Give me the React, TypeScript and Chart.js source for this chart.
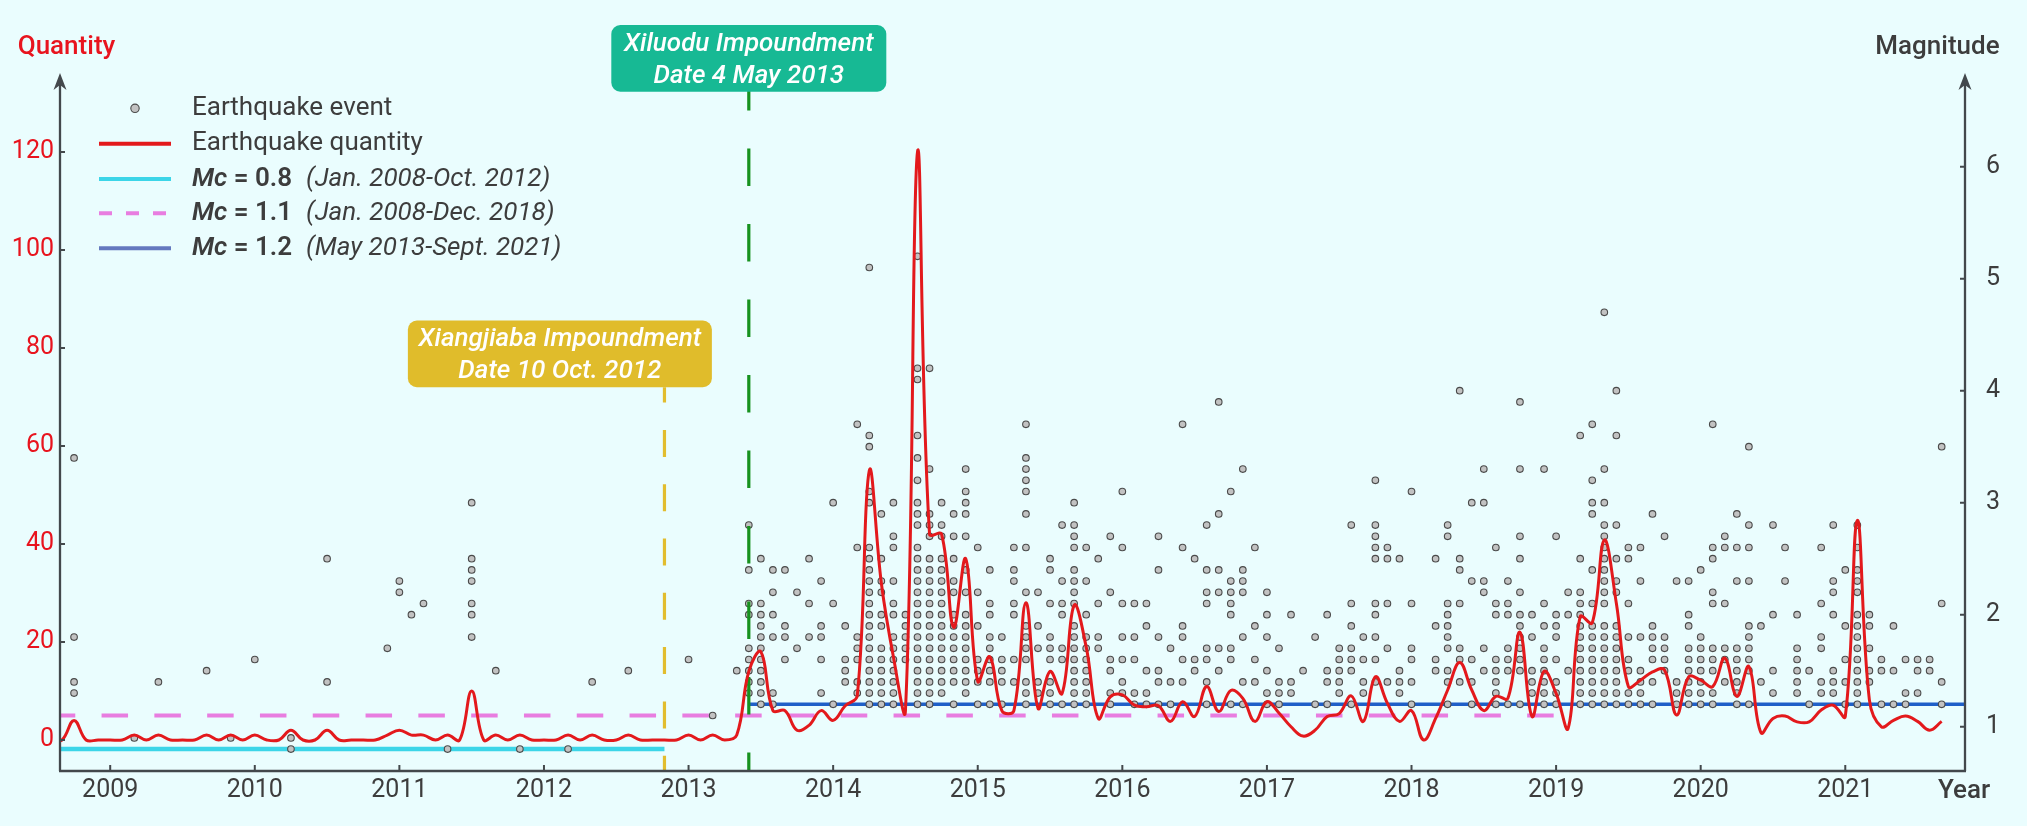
import React, { useEffect, useRef } from "react";
import { Chart, registerables } from "chart.js";

Chart.register(...registerables);

// ---------------- data ----------------
const yearTicks = [2009, 2010, 2011, 2012, 2013, 2014, 2015, 2016, 2017, 2018, 2019, 2020, 2021];
const quantityTicks = [0, 20, 40, 60, 80, 100, 120];
const magnitudeTicks = [1, 2, 3, 4, 5, 6];

// monthly earthquake quantity, first value = Jul 2008
const quantityStart = "2008-07";
const quantityValues = [
  0, 0, 4, 0, 0, 0,
  0, 1, 0, 1, 0, 0, 0, 1, 0, 1, 0, 1,
  0, 0, 2, 0, 0, 2, 0, 0, 0, 0, 1, 2,
  1, 1, 0, 1, 0, 10, 0, 1, 0, 1, 0, 0,
  0, 1, 0, 1, 0, 0, 1, 0, 0, 0, 0, 1,
  0, 1, 0, 1, 14, 18, 6, 6, 2, 3, 6, 4,
  7, 9, 55, 32, 17, 6, 120, 42, 42, 23, 37, 12,
  17, 6, 6, 28, 6.5, 14, 9.5, 27.5, 19, 4.4, 8.8, 9.2,
  7.1, 6.8, 7, 3.8, 7.8, 4.8, 10.9, 5.8, 10.1, 8.5, 3.8, 7.8,
  5.5, 2.7, 0.8, 2, 4.8, 5.4, 9, 3.8, 12.9, 7.5, 3.8, 6,
  0, 4.4, 10.2, 15.8, 10.2, 6, 8.9, 8.5, 22, 4.8, 14, 9.5,
  2.4, 25.2, 23.9, 40.8, 27.9, 10.9, 12.2, 13.9, 14.3, 5.1, 12.9, 12.2,
  10.9, 16.7, 8.9, 15, 1.5, 4.4, 4.9, 3.7, 3.7, 6.1, 7.1, 4.8,
  44.8, 8.2, 2.7, 4, 4.9, 3.8, 2, 3.8,
];

// earthquake events: month and magnitudes recorded in that month
const eventMonths = [
  "2008-09", "2009-02", "2009-04", "2009-08", "2009-10", "2009-12", "2010-03", "2010-06", "2010-11", "2010-12",
  "2011-01", "2011-02", "2011-04", "2011-06", "2011-08", "2011-10", "2012-02", "2012-04", "2012-07", "2012-12",
  "2013-02", "2013-04", "2013-05", "2013-06", "2013-07", "2013-08", "2013-09", "2013-10", "2013-11", "2013-12",
  "2014-01", "2014-02", "2014-03", "2014-04", "2014-05", "2014-06", "2014-07", "2014-08", "2014-09", "2014-10", "2014-11", "2014-12",
  "2015-01", "2015-02", "2015-03", "2015-04", "2015-05", "2015-06", "2015-07", "2015-08", "2015-09", "2015-10", "2015-11", "2015-12",
  "2016-01", "2016-02", "2016-03", "2016-04", "2016-05", "2016-06", "2016-07", "2016-08", "2016-09", "2016-10", "2016-11", "2016-12",
  "2017-01", "2017-02", "2017-03", "2017-04", "2017-05", "2017-06", "2017-07", "2017-08", "2017-09", "2017-10", "2017-11", "2017-12",
  "2018-02", "2018-03", "2018-04", "2018-05", "2018-06", "2018-07", "2018-08", "2018-09", "2018-10", "2018-11", "2018-12",
  "2019-01", "2019-02", "2019-03", "2019-04", "2019-05", "2019-06", "2019-07", "2019-08", "2019-09", "2019-10", "2019-11", "2019-12",
  "2020-01", "2020-02", "2020-03", "2020-04", "2020-05", "2020-06", "2020-07", "2020-08", "2020-09", "2020-10", "2020-11", "2020-12",
  "2021-01", "2021-02", "2021-03", "2021-04", "2021-05", "2021-06", "2021-07", "2021-08",
];
const eventMagnitudes = [
  [3.4, 1.8, 1.4, 1.3], [0.9], [1.4], [1.5], [0.9], [1.6], [0.9, 0.8], [2.5, 1.4], [1.7], [2.3, 2.2],
  [2.0], [2.1], [0.8], [3.0, 2.5, 2.4, 2.3, 2.1, 2.0, 1.8], [1.5], [0.8], [0.8], [1.4], [1.5], [1.6],
  [1.1], [1.5],
  [2.8, 2.4, 2.1, 2.0, 1.7, 1.6, 1.5, 1.4, 1.3],
  [2.5, 2.1, 2.0, 1.9, 1.8, 1.7, 1.6, 1.5, 1.4, 1.3, 1.2],
  [2.4, 2.2, 2.0, 1.8, 1.3, 1.2],
  [2.4, 1.9, 1.8, 1.6],
  [2.2, 1.7],
  [2.5, 2.1, 1.8],
  [2.3, 1.9, 1.8, 1.6, 1.3],
  [3.0, 2.1, 1.2],
  // 2014
  [1.9, 1.6, 1.5, 1.4],
  [3.7, 2.6, 1.8, 1.7, 1.6, 1.4, 1.3],
  [5.1, 3.6, 3.5, 3.1, 3.0, 2.6, 2.5, 2.4, 2.3, 2.2, 2.1, 2.0, 1.9, 1.8, 1.7, 1.6, 1.5, 1.4, 1.3, 1.2],
  [2.9, 2.5, 2.3, 2.2, 2.0, 1.9, 1.7, 1.6, 1.5, 1.4, 1.3, 1.2],
  [3.0, 2.7, 2.6, 2.3, 2.1, 2.0, 1.8, 1.7, 1.6, 1.5, 1.4, 1.3, 1.2],
  [2.0, 1.9, 1.8, 1.7, 1.6],
  [5.2, 4.2, 4.1, 3.6, 3.4, 3.2, 3.0, 2.9, 2.8, 2.6, 2.5, 2.4, 2.3, 2.2, 2.1, 2.0, 1.9, 1.8, 1.7, 1.6, 1.5, 1.4, 1.3, 1.2],
  [4.2, 3.3, 2.9, 2.8, 2.7, 2.5, 2.4, 2.3, 2.2, 2.1, 2.0, 1.9, 1.8, 1.7, 1.6, 1.5, 1.4, 1.3, 1.2],
  [3.0, 2.8, 2.7, 2.5, 2.4, 2.3, 2.2, 2.1, 2.0, 1.9, 1.8, 1.7, 1.6, 1.5, 1.4, 1.3],
  [2.9, 2.7, 2.5, 2.3, 2.2, 2.0, 1.9, 1.8, 1.7, 1.6, 1.5, 1.4, 1.2],
  [3.3, 3.1, 3.0, 2.9, 2.7, 2.4, 2.2, 2.0, 1.9, 1.8, 1.7, 1.6, 1.5, 1.4, 1.3],
  [2.6, 2.2, 1.9, 1.6, 1.5, 1.4, 1.2],
  // 2015
  [2.4, 2.1, 2.0, 1.8, 1.7, 1.6, 1.5, 1.4, 1.2],
  [1.8, 1.6, 1.5, 1.4, 1.2],
  [2.6, 2.4, 2.3, 2.1, 2.0, 1.6, 1.4],
  [3.7, 3.4, 3.3, 3.2, 3.1, 2.9, 2.6, 2.2, 1.9, 1.8, 1.7, 1.6, 1.4, 1.3, 1.2],
  [2.2, 1.9, 1.7, 1.4, 1.3],
  [2.5, 2.4, 2.1, 1.8, 1.7, 1.6, 1.4, 1.3, 1.2],
  [2.8, 2.3, 2.1, 2.0, 1.7, 1.6, 1.2],
  [3.0, 2.8, 2.7, 2.6, 2.4, 2.3, 2.2, 2.1, 1.9, 1.8, 1.7, 1.6, 1.5, 1.4, 1.3, 1.2],
  [2.6, 2.3, 2.0, 1.8, 1.7, 1.6, 1.5, 1.4, 1.3, 1.2],
  [2.5, 2.1, 1.8, 1.7],
  [2.7, 2.2, 1.6, 1.5, 1.3, 1.2],
  [3.1, 2.6, 2.1, 1.8, 1.6, 1.4, 1.3],
  // 2016
  [2.1, 1.8, 1.6, 1.3, 1.2],
  [2.1, 1.9, 1.5, 1.3, 1.2],
  [2.7, 2.4, 1.8, 1.5, 1.4, 1.2],
  [1.7, 1.4, 1.2],
  [3.7, 2.6, 1.9, 1.8, 1.6, 1.4],
  [2.5, 1.6, 1.5],
  [2.8, 2.4, 2.2, 2.1, 1.7, 1.6, 1.4, 1.2],
  [3.9, 2.9, 2.4, 2.2, 1.7, 1.5],
  [3.1, 2.3, 2.2, 2.1, 2.0, 1.7, 1.6, 1.2],
  [3.3, 2.4, 2.3, 2.2, 1.8, 1.4, 1.2],
  [2.6, 1.9, 1.6, 1.4],
  [2.2, 2.0, 1.8, 1.5, 1.3, 1.2],
  // 2017
  [1.7, 1.4, 1.3, 1.2],
  [2.0, 1.4, 1.3],
  [1.5],
  [1.8, 1.2],
  [2.0, 1.5, 1.4, 1.2],
  [1.7, 1.6, 1.5, 1.4, 1.3],
  [2.8, 2.1, 1.9, 1.7, 1.6, 1.5, 1.2],
  [1.8, 1.6, 1.4, 1.3],
  [3.2, 2.8, 2.7, 2.6, 2.5, 2.1, 2.0, 1.8, 1.6, 1.4],
  [2.6, 2.5, 2.1, 1.7, 1.4],
  [2.5, 1.5, 1.4, 1.3],
  [3.1, 2.1, 1.7, 1.6, 1.4, 1.2],
  // 2018 (Feb-Dec)
  [2.5, 1.9, 1.6, 1.5],
  [2.8, 2.7, 2.1, 2.0, 1.9, 1.8, 1.7, 1.5, 1.4, 1.2],
  [4.0, 2.5, 2.4, 2.1, 1.7, 1.6, 1.4],
  [3.0, 2.3, 1.6, 1.4, 1.2],
  [3.3, 3.0, 2.3, 2.2, 1.7, 1.5],
  [2.6, 2.1, 2.0, 1.6, 1.5, 1.4, 1.3, 1.2],
  [2.3, 2.1, 2.0, 1.7, 1.6, 1.5, 1.2],
  [3.9, 3.3, 2.7, 2.5, 2.2, 2.0, 1.9, 1.8, 1.7, 1.6, 1.5, 1.2],
  [2.0, 1.8, 1.5, 1.4, 1.3],
  [3.3, 2.1, 1.9, 1.7, 1.6, 1.5, 1.4, 1.3, 1.2],
  [2.7, 2.0, 1.9, 1.8, 1.6, 1.4, 1.3, 1.2],
  // 2019
  [2.2, 2.0, 1.5],
  [3.6, 2.5, 2.2, 2.1, 2.0, 1.9, 1.8, 1.7, 1.6, 1.5, 1.4, 1.3, 1.2],
  [3.7, 3.2, 3.0, 2.9, 2.4, 2.1, 1.9, 1.8, 1.7, 1.6, 1.5, 1.4, 1.3, 1.2],
  [4.7, 3.3, 3.0, 2.8, 2.7, 2.6, 2.5, 2.4, 2.3, 2.2, 2.1, 1.9, 1.8, 1.7, 1.6, 1.5, 1.4, 1.3, 1.2],
  [4.0, 3.6, 2.8, 2.5, 2.3, 2.2, 1.9, 1.8, 1.7, 1.6, 1.5, 1.4, 1.3, 1.2],
  [2.6, 2.5, 2.1, 1.8, 1.6, 1.5, 1.3, 1.2],
  [2.6, 2.3, 1.8, 1.5, 1.4, 1.3, 1.2],
  [2.9, 1.9, 1.8, 1.7, 1.6, 1.4, 1.2],
  [2.7, 1.8, 1.7, 1.6, 1.5],
  [2.3, 1.4, 1.3, 1.2],
  [2.3, 2.0, 1.9, 1.7, 1.6, 1.5, 1.4, 1.3, 1.2],
  [2.4, 1.8, 1.7, 1.6, 1.5, 1.4, 1.3, 1.2],
  // 2020
  [3.7, 2.6, 2.5, 2.2, 2.1, 1.7, 1.6, 1.5, 1.3, 1.2],
  [2.7, 2.6, 2.1, 1.7, 1.6, 1.4],
  [2.9, 2.6, 2.3, 1.7, 1.6, 1.5, 1.4, 1.3, 1.2],
  [3.5, 2.8, 2.6, 2.3, 1.9, 1.8, 1.7, 1.6, 1.5, 1.2],
  [1.9, 1.4],
  [2.8, 2.0, 1.5, 1.3],
  [2.6, 2.3],
  [2.0, 1.7, 1.6, 1.5, 1.4, 1.3],
  [1.5, 1.2],
  [2.6, 2.1, 1.8, 1.7, 1.4, 1.3],
  [2.8, 2.3, 2.2, 2.0, 1.5, 1.4, 1.3],
  [2.4, 1.9, 1.6, 1.4, 1.2],
  // 2021
  [2.8, 2.6, 2.4, 2.3, 2.2, 2.0, 1.9, 1.8, 1.7, 1.6, 1.5, 1.4, 1.3, 1.2],
  [2.0, 1.9, 1.7, 1.5, 1.4],
  [1.6, 1.5, 1.2],
  [1.9, 1.5, 1.2],
  [1.6, 1.3, 1.2],
  [1.6, 1.5, 1.3],
  [1.6, 1.5],
  [3.5, 2.1, 1.4, 1.2],
];

// magnitude of completeness thresholds
const mcValues = [0.8, 1.1, 1.2];
const mcFrom = ["2008-01", "2008-01", "2013-05"];
const mcTo = ["2012-10", "2018-12", "2021-10"];
const mcLabels = ["0.8", "1.1", "1.2"];
const mcPeriods = ["(Jan. 2008-Oct. 2012)", "(Jan. 2008-Dec. 2018)", "(May 2013-Sept. 2021)"];

// reservoir impoundments
const impoundmentDates = ["2012-10", "2013-05"];
const impoundmentTitles = ["Xiangjiaba Impoundment", "Xiluodu Impoundment"];
const impoundmentSubtitles = ["Date 10 Oct. 2012", "Date 4 May 2013"];

// ---------------- layout / style ----------------
const W = 2027;
const H = 826;
const BG = "#EAFDFE";
const AXIS = "#43484c";
const TEXT = "#3d3d3d";
const RED = "#E3191C";
const QTY_RED = "#E8141E";
const FONT = "Roboto";

const X_MIN = 2008.6528;
const X_MAX = 2021.828;
const Q_MIN = -6.327;
const Q_MAX = 136.12;
const M_MIN = 0.6045;
const M_MAX = 6.8366;

// annotation box layout in (year, quantity) units
const boxLayout = [
  { cx: 2012.11, top: 85.6, bottom: 72, width: 304, color: "#E0BC2B", lineFrom: 72, dash: [27, 27.3], dashOffset: 11.6, lineColor: "#E2BD2E" },
  { cx: null as number | null, top: 145.9, bottom: 132.3, width: 275, color: "#17B994", lineFrom: Q_MAX, dash: [37.5, 38], dashOffset: 0, lineColor: "#17921F" },
];

const mcStyles = [
  { color: "#3CD5E8", legendColor: "#3CD5E8", width: 4.5, dash: [] as number[], dashOffset: 0, legendDash: [] as number[] },
  { color: "#E87DE0", legendColor: "#E87DE0", width: 4, dash: [26.5, 26.3], dashOffset: 34.5, legendDash: [13, 14] },
  { color: "#1F5FC8", legendColor: "#6479BF", width: 3.5, dash: [] as number[], dashOffset: 0, legendDash: [] as number[] },
];

function monthToX(s: string): number {
  const [y, m] = s.split("-").map(Number);
  return y + m / 12;
}

function roundRect(ctx: CanvasRenderingContext2D, x: number, y: number, w: number, h: number, r: number) {
  ctx.beginPath();
  ctx.moveTo(x + r, y);
  ctx.lineTo(x + w - r, y);
  ctx.arcTo(x + w, y, x + w, y + r, r);
  ctx.lineTo(x + w, y + h - r);
  ctx.arcTo(x + w, y + h, x + w - r, y + h, r);
  ctx.lineTo(x + r, y + h);
  ctx.arcTo(x, y + h, x, y + h - r, r);
  ctx.lineTo(x, y + r);
  ctx.arcTo(x, y, x + r, y, r);
  ctx.closePath();
}

function drawArrow(ctx: CanvasRenderingContext2D, x: number, tipY: number) {
  ctx.beginPath();
  ctx.moveTo(x, tipY);
  ctx.lineTo(x - 6.5, tipY + 17);
  ctx.lineTo(x, tipY + 12);
  ctx.lineTo(x + 6.5, tipY + 17);
  ctx.closePath();
  ctx.fill();
}

const bgPlugin = {
  id: "bg",
  beforeDraw(chart: any) {
    const ctx = chart.ctx as CanvasRenderingContext2D;
    ctx.save();
    ctx.fillStyle = BG;
    ctx.fillRect(0, 0, chart.width, chart.height);
    ctx.restore();
  },
};

const decorPlugin = {
  id: "decor",
  afterDraw(chart: any) {
    const ctx = chart.ctx as CanvasRenderingContext2D;
    const a = chart.chartArea;
    const sx = chart.scales.x;
    const sq = chart.scales.yQ;
    const sm = chart.scales.yM;
    ctx.save();

    // axes
    ctx.strokeStyle = AXIS;
    ctx.fillStyle = AXIS;
    ctx.lineWidth = 2.3;
    ctx.beginPath();
    ctx.moveTo(a.left - 1, a.bottom);
    ctx.lineTo(a.right + 1, a.bottom);
    ctx.moveTo(a.left, a.bottom);
    ctx.lineTo(a.left, a.top + 12);
    ctx.moveTo(a.right, a.bottom);
    ctx.lineTo(a.right, a.top + 12);
    ctx.stroke();
    drawArrow(ctx, a.left, a.top);
    drawArrow(ctx, a.right, a.top);

    // inward ticks
    ctx.lineWidth = 2;
    ctx.beginPath();
    for (const yv of yearTicks) {
      const px = sx.getPixelForValue(yv);
      ctx.moveTo(px, a.bottom);
      ctx.lineTo(px, a.bottom - 6);
    }
    for (const q of quantityTicks) {
      const py = sq.getPixelForValue(q);
      ctx.moveTo(a.left, py);
      ctx.lineTo(a.left + 5, py);
    }
    for (const m of magnitudeTicks) {
      const py = sm.getPixelForValue(m);
      ctx.moveTo(a.right, py);
      ctx.lineTo(a.right - 5, py);
    }
    ctx.stroke();

    // axis titles
    ctx.textBaseline = "alphabetic";
    ctx.textAlign = "center";
    ctx.font = `500 26px ${FONT}`;
    ctx.fillStyle = QTY_RED;
    ctx.fillText("Quantity", 66.5, 54);
    ctx.fillStyle = TEXT;
    ctx.fillText("Magnitude", 1937.5, 54);
    ctx.fillText("Year", a.right - 1, 798);

    // annotation boxes
    boxLayout.forEach((b, i) => {
      const dateX = monthToX(impoundmentDates[i]);
      const cx = sx.getPixelForValue(b.cx ?? dateX);
      const top = sq.getPixelForValue(b.top);
      const bottom = sq.getPixelForValue(b.bottom);
      ctx.fillStyle = b.color;
      roundRect(ctx, cx - b.width / 2, top, b.width, bottom - top, 9);
      ctx.fill();
      ctx.fillStyle = "#ffffff";
      ctx.font = `italic 500 26px ${FONT}`;
      ctx.textAlign = "center";
      ctx.fillText(impoundmentTitles[i], cx, top + 25.5);
      ctx.fillText(impoundmentSubtitles[i], cx, top + 57.5);
    });

    // legend
    const lx0 = 99;
    const lx1 = 171;
    const tx = 192;
    const px = 306;
    const rows = [108.3, 143.7, 179, 213.3, 248.3];
    ctx.textAlign = "left";
    ctx.textBaseline = "middle";
    // event marker
    ctx.beginPath();
    ctx.arc((lx0 + lx1) / 2, rows[0], 4.2, 0, Math.PI * 2);
    ctx.fillStyle = "#C2C2C2";
    ctx.fill();
    ctx.lineWidth = 1.1;
    ctx.strokeStyle = "#4a4a4a";
    ctx.stroke();
    ctx.fillStyle = TEXT;
    ctx.font = `26px ${FONT}`;
    ctx.fillText("Earthquake event", tx, rows[0]);
    // quantity line
    ctx.strokeStyle = RED;
    ctx.lineWidth = 4;
    ctx.beginPath();
    ctx.moveTo(lx0, rows[1]);
    ctx.lineTo(lx1, rows[1]);
    ctx.stroke();
    ctx.fillText("Earthquake quantity", tx, rows[1]);
    // Mc rows
    mcLabels.forEach((lab, i) => {
      const y = rows[2 + i];
      const st = mcStyles[i];
      ctx.strokeStyle = st.legendColor;
      ctx.lineWidth = 4;
      ctx.setLineDash(st.legendDash);
      ctx.beginPath();
      ctx.moveTo(lx0, y);
      ctx.lineTo(lx1, y);
      ctx.stroke();
      ctx.setLineDash([]);
      ctx.fillStyle = TEXT;
      ctx.font = `italic 600 26px ${FONT}`;
      ctx.fillText("Mc", tx, y);
      const w = ctx.measureText("Mc").width;
      ctx.font = `600 26px ${FONT}`;
      ctx.fillText(" = " + lab, tx + w, y);
      ctx.font = `italic 26px ${FONT}`;
      ctx.fillText(mcPeriods[i], px, y);
    });

    ctx.restore();
  },
};

function buildConfig(): any {
  const qStart = monthToX(quantityStart);
  const quantityPoints = quantityValues.map((v, i) => ({ x: qStart + i / 12, y: v }));
  const eventPoints: { x: number; y: number }[] = [];
  eventMonths.forEach((mo, i) => {
    const x = monthToX(mo);
    for (const m of eventMagnitudes[i]) eventPoints.push({ x, y: m });
  });

  const mcDatasets = mcValues.map((v, i) => ({
    type: "line",
    label: "Mc " + mcLabels[i],
    data: [
      { x: monthToX(mcFrom[i]), y: v },
      { x: monthToX(mcTo[i]), y: v },
    ],
    yAxisID: "yM",
    borderColor: mcStyles[i].color,
    borderWidth: mcStyles[i].width,
    borderDash: mcStyles[i].dash,
    borderDashOffset: mcStyles[i].dashOffset,
    borderCapStyle: "butt",
    pointRadius: 0,
    tension: 0,
    order: 6,
  }));

  const impoundmentDatasets = impoundmentDates.map((d, i) => ({
    type: "line",
    label: impoundmentTitles[i],
    data: [
      { x: monthToX(d), y: boxLayout[i].lineFrom },
      { x: monthToX(d), y: Q_MIN },
    ],
    yAxisID: "yQ",
    borderColor: boxLayout[i].lineColor,
    borderWidth: 3.2,
    borderDash: boxLayout[i].dash,
    borderDashOffset: boxLayout[i].dashOffset,
    borderCapStyle: "butt",
    pointRadius: 0,
    tension: 0,
    order: 3,
  }));

  const tickFont = { family: FONT, size: 25 };

  return {
    type: "scatter",
    data: {
      datasets: [
        ...mcDatasets,
        {
          type: "scatter",
          label: "Earthquake event",
          data: eventPoints,
          yAxisID: "yM",
          pointRadius: 3.3,
          pointBackgroundColor: "#C2C2C2",
          pointBorderColor: "#4a4a4a",
          pointBorderWidth: 1.1,
          backgroundColor: "#C2C2C2",
          borderColor: "#4a4a4a",
          order: 5,
        },
        ...impoundmentDatasets,
        {
          type: "line",
          label: "Earthquake quantity",
          data: quantityPoints,
          yAxisID: "yQ",
          borderColor: RED,
          borderWidth: 3,
          pointRadius: 0,
          tension: 0.4,
          order: 1,
        },
      ],
    },
    options: {
      responsive: false,
      animation: false,
      events: [],
      layout: { padding: { top: 73, left: 0, right: 0, bottom: 0 } },
      plugins: { legend: { display: false }, tooltip: { enabled: false } },
      scales: {
        x: {
          type: "linear",
          min: X_MIN,
          max: X_MAX,
          grid: { display: false, drawTicks: false },
          border: { display: false },
          afterBuildTicks: (s: any) => {
            s.ticks = yearTicks.map((v) => ({ value: v }));
          },
          afterFit: (s: any) => {
            s.height = 55;
          },
          ticks: {
            callback: (v: any) => String(v),
            font: tickFont,
            color: TEXT,
            padding: 5,
            maxRotation: 0,
            autoSkip: false,
          },
        },
        yQ: {
          type: "linear",
          position: "left",
          min: Q_MIN,
          max: Q_MAX,
          grid: { display: false, drawTicks: false },
          border: { display: false },
          afterBuildTicks: (s: any) => {
            s.ticks = quantityTicks.map((v) => ({ value: v }));
          },
          afterFit: (s: any) => {
            s.width = 60;
          },
          ticks: { callback: (v: any) => String(v), font: tickFont, color: QTY_RED, padding: 6 },
        },
        yM: {
          type: "linear",
          position: "right",
          min: M_MIN,
          max: M_MAX,
          grid: { display: false, drawTicks: false },
          border: { display: false },
          afterBuildTicks: (s: any) => {
            s.ticks = magnitudeTicks.map((v) => ({ value: v }));
          },
          afterFit: (s: any) => {
            s.width = 62;
          },
          ticks: { callback: (v: any) => String(v), font: tickFont, color: TEXT, padding: 21 },
        },
      },
    },
    plugins: [bgPlugin, decorPlugin],
  };
}

export default function App() {
  const ref = useRef<HTMLCanvasElement | null>(null);
  useEffect(() => {
    if (!ref.current) return;
    const chart = new Chart(ref.current, buildConfig());
    let alive = true;
    if ((document as any).fonts && (document as any).fonts.ready) {
      (document as any).fonts.ready.then(() => {
        if (alive) chart.update();
      });
    }
    return () => {
      alive = false;
      chart.destroy();
    };
  }, []);
  return (
    <div style={{ position: "fixed", left: 0, top: 0, width: W, height: H, background: BG, overflow: "hidden" }}>
      <canvas ref={ref} width={W} height={H} style={{ display: "block", width: W, height: H }} />
    </div>
  );
}
